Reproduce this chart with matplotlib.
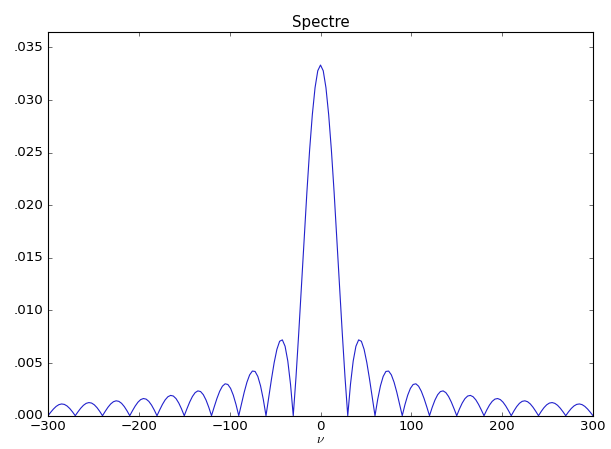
import numpy as np
import matplotlib
matplotlib.use("Agg")
import matplotlib.pyplot as plt
from matplotlib.ticker import FuncFormatter

# spectrum magnitude, nu = 0, 3, 6, ..., 300 (symmetric about 0)
nu_step = 3
spectre_pos = [
    0.03333, 0.03279, 0.03118, 0.02861, 0.02523, 0.02122, 0.01682, 0.01226, 0.00780, 0.00364,
    0.0, 0.002981, 0.005197, 0.006603, 0.007208, 0.007074, 0.006307, 0.005049, 0.003465, 0.001726,
    0.0, 0.001561, 0.002835, 0.003732, 0.004205, 0.004244, 0.003881, 0.003179, 0.002227, 0.001131,
    0.0, 0.001058, 0.001949, 0.002601, 0.002968, 0.003032, 0.002803, 0.002320, 0.001641, 0.000841,
    0.0, 0.000800, 0.001485, 0.001996, 0.002294, 0.002358, 0.002194, 0.001826, 0.001299, 0.000669,
    0.0, 0.000643, 0.001199, 0.001620, 0.001869, 0.001929, 0.001802, 0.001506, 0.001075, 0.000556,
    0.0, 0.000537, 0.001006, 0.001362, 0.001577, 0.001632, 0.001529, 0.001281, 0.000917, 0.000475,
    0.0, 0.000462, 0.000866, 0.001176, 0.001364, 0.001415, 0.001328, 0.001115, 0.000800, 0.000415,
    0.0, 0.000405, 0.000761, 0.001034, 0.001201, 0.001248, 0.001173, 0.000987, 0.000709, 0.000368,
    0.0, 0.000360, 0.000678, 0.000923, 0.001074, 0.001117, 0.001051, 0.000885, 0.000636, 0.000331,
    0.0,
]

x_ticks = [-300, -200, -100, 0, 100, 200, 300]
y_ticks = [0.0, 0.005, 0.010, 0.015, 0.020, 0.025, 0.030, 0.035]

pos = np.array(spectre_pos)
spectre = np.concatenate([pos[:0:-1], pos])
nu = np.arange(-(len(pos) - 1), len(pos)) * nu_step

plt.style.use("classic")
fig = plt.figure(figsize=(611 / 80, 449 / 80), dpi=80, facecolor="white")
ax = fig.add_axes([48 / 611, 1 - 415.7 / 449, (593 - 48) / 611, (415.7 - 31.7) / 449])

ax.plot(nu, spectre, color="#2222cc", linewidth=1)
ax.set_xlim(-300, 300)
ax.set_ylim(0, 0.0365)
ax.set_xticks(x_ticks)
ax.set_yticks(y_ticks)
ax.yaxis.set_major_formatter(FuncFormatter(lambda v, p: f"{v:.3f}".lstrip("0")))
ax.set_title("Spectre", fontsize=13.5, pad=4)
ax.set_xlabel(r"$\nu$", labelpad=0)

fig.savefig("out.png", dpi=80, facecolor="white")
